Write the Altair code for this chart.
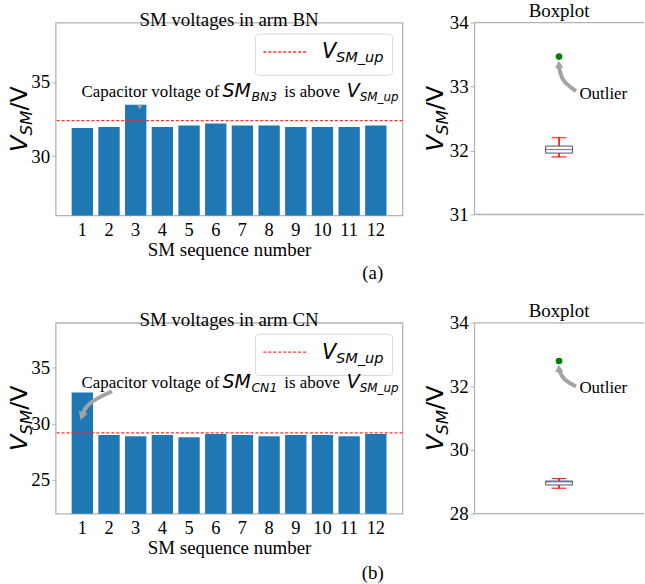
import altair as alt
import pandas as pd

# ---------------- data ----------------
sm_numbers = list(range(1, 13))
bn_voltages = [31.90, 31.96, 33.47, 31.96, 32.07, 32.20, 32.07, 32.07, 31.96, 31.96, 31.96, 32.07]
cn_voltages = [32.80, 29.00, 28.90, 29.00, 28.80, 29.10, 29.00, 28.90, 29.00, 29.00, 28.90, 29.10]
bn_limit = 32.4
cn_limit = 29.2
bn_bar_domain = [26, 39]
cn_bar_domain = [22, 39]
bn_bar_ticks = [30, 35]
cn_bar_ticks = [25, 30, 35]
bn_box_domain = [31, 34]
cn_box_domain = [28, 34]
bn_box_ticks = [31, 32, 33, 34]
cn_box_ticks = [28, 30, 32, 34]

# annotation arrows (data coordinates)
cn_arrow_x = [2.11, 1.55, 1.12, 1.00]
cn_arrow_y = [32.89, 32.29, 31.56, 30.80]
bn_mark_x = [3.15]
bn_mark_y = [33.36]
box_arrow_x = [1.20, 1.05, 1.01, 1.00]
bn_box_arrow_y = [32.93, 33.07, 33.22, 33.33]
cn_box_arrow_y = [32.00, 32.21, 32.46, 32.53]
outlier_text_x = 1.24
bn_outlier_text_y = 32.80
cn_outlier_text_y = 31.79

SERIF = "Liberation Serif"
SANS = "DejaVu Sans"
GREY = "#b3b3b3"
ARROW = "#a3a3a3"
one = pd.DataFrame({"k": [0]})

BAR_W = 349
BOX_W = 171


def label(text, x, y, font=SERIF, size=17, italic=False, angle=None, dx=0, dy=0,
          align="left", baseline="alphabetic"):
    kw = dict(text=text, font=font, fontSize=size, align=align, baseline=baseline, color="black")
    if italic:
        kw["fontStyle"] = "italic"
    if angle is not None:
        kw["angle"] = angle
    if dx:
        kw["dx"] = dx
    if dy:
        kw["dy"] = dy
    return alt.Chart(one).mark_text(**kw).encode(x=alt.value(x), y=alt.value(y))


def y_title(x, ybottom):
    return [
        label("V", x, ybottom, SANS, 24, True, angle=270),
        label("SM", x, ybottom, SANS, 16.8, True, angle=270, dx=16.4, dy=5),
        label("/V", x, ybottom, SANS, 24, False, angle=270, dx=41.6),
    ]


def bar_panel(values, limit, domain, ticks, title, sub, ann_y, height, tag,
              arrow_x=None, arrow_y=None, head_angle=180, mark_x=None, mark_y=None):
    df = pd.DataFrame({"sm": sm_numbers, "v": values})
    df["lo"] = df["sm"] - 0.4
    df["hi"] = df["sm"] + 0.4
    xs = alt.Scale(domain=[0, 13], nice=False, zero=False)
    ys = alt.Scale(domain=domain, nice=False, zero=False)
    bars = alt.Chart(df).mark_bar(color="#1f77b4").encode(
        x=alt.X("lo:Q", scale=xs, axis=alt.Axis(values=sm_numbers, labels=False, ticks=False,
                                                title="SM sequence number", titlePadding=25)),
        x2="hi:Q",
        y=alt.Y("v:Q", scale=ys, axis=alt.Axis(values=ticks, title=None, tickSize=4,
                                               format="d", labelPadding=2)),
        y2=alt.datum(domain[0]),
    )
    xlabels = alt.Chart(df).mark_text(font=SERIF, fontSize=18.5, baseline="middle", color="black").encode(
        x=alt.X("sm:Q", scale=xs), y=alt.value(height + 14.5), text=alt.Text("sm:Q", format="d"))
    rule = alt.Chart(pd.DataFrame({"v": [limit]})).mark_rule(
        color="#ff2b2b", strokeDash=[3, 2], strokeWidth=1.3
    ).encode(y=alt.Y("v:Q", scale=ys))
    layers = [bars, xlabels, rule]
    # legend box
    layers.append(alt.Chart(one).mark_rect(fill="white", stroke="#d9d9d9", strokeWidth=1,
                                           cornerRadius=4).encode(
        x=alt.value(201), x2=alt.value(339), y=alt.value(11.5), y2=alt.value(53)))
    layers.append(alt.Chart(one).mark_rule(color="#ff2b2b", strokeDash=[3, 2], strokeWidth=1.3).encode(
        x=alt.value(209), x2=alt.value(252), y=alt.value(29.5)))
    layers.append(label("V", 268, 36, SANS, 21, True))
    layers.append(label("SM_up", 282, 40, SANS, 14.7, True))
    # annotation sentence
    layers.append(label("Capacitor voltage of", 26, ann_y, SERIF, 17))
    layers.append(label("SM", 168, ann_y, SANS, 19, True))
    layers.append(label(sub, 197, ann_y + 4, SANS, 12.5, True))
    layers.append(label("is above", 230, ann_y, SERIF, 17))
    layers.append(label("V", 293, ann_y, SANS, 19, True))
    layers.append(label("SM_up", 306, ann_y + 4, SANS, 12, True))
    # arrows
    if arrow_x is not None:
        adf = pd.DataFrame({"v": arrow_y, "lo": arrow_x, "o": list(range(len(arrow_x)))})
        layers.append(alt.Chart(adf).mark_line(interpolate="basis", color=ARROW, strokeWidth=4).encode(
            x=alt.X("lo:Q", scale=xs), y=alt.Y("v:Q", scale=ys), order="o:Q"))
        hdf = pd.DataFrame({"lo": arrow_x[-1:], "v": arrow_y[-1:]})
        layers.append(alt.Chart(hdf).mark_point(shape="triangle", filled=True, color=ARROW, opacity=1,
                                                size=90, angle=head_angle).encode(
            x=alt.X("lo:Q", scale=xs), y=alt.Y("v:Q", scale=ys)))
    if mark_x is not None:
        mdf = pd.DataFrame({"lo": mark_x, "v": mark_y})
        layers.append(alt.Chart(mdf).mark_point(shape="triangle", filled=True, color=ARROW, opacity=1,
                                                size=30, angle=180).encode(
            x=alt.X("lo:Q", scale=xs), y=alt.Y("v:Q", scale=ys)))
    layers += y_title(-29, height / 2 + 33)
    layers.append(label(tag, 319, 252, SERIF, 19, align="center", baseline="middle"))
    return alt.layer(*layers).properties(width=BAR_W, height=height, title=title)


def box_panel(values, domain, ticks, arrow_y, text_y, height):
    df = pd.DataFrame({"v": values})
    ys = alt.Scale(domain=domain, nice=False, zero=False)
    xs = alt.Scale(domain=[0, 2], nice=False, zero=False)
    box = alt.Chart(df).mark_boxplot(
        extent=1.5, size=27,
        box={"fill": "white", "stroke": "#555555", "strokeWidth": 1},
        median={"color": "#2233aa", "strokeDash": [7, 2, 2, 2], "strokeWidth": 1.6},
        rule={"color": "red", "strokeWidth": 1.6},
        ticks={"color": "red", "size": 15, "strokeWidth": 2},
        outliers={"color": "green", "filled": True, "size": 45, "opacity": 1},
    ).encode(
        y=alt.Y("v:Q", scale=ys, axis=alt.Axis(values=ticks, title=None, tickSize=4, labelPadding=2,
                                               format="d", domain=True, domainColor=GREY,
                                               domainWidth=1.3))
    )
    adf = pd.DataFrame({"ax": box_arrow_x, "v": arrow_y, "o": list(range(len(arrow_y)))})
    line = alt.Chart(adf).mark_line(interpolate="basis", color=ARROW, strokeWidth=4).encode(
        x=alt.X("ax:Q", scale=xs, axis=None), y=alt.Y("v:Q", scale=ys), order="o:Q")
    hdf = pd.DataFrame({"ax": box_arrow_x[-1:], "v": arrow_y[-1:]})
    head = alt.Chart(hdf).mark_point(shape="triangle", filled=True, color=ARROW, opacity=1,
                                     size=70, angle=355).encode(
        x=alt.X("ax:Q", scale=xs, axis=None), y=alt.Y("v:Q", scale=ys))
    tdf = pd.DataFrame({"ax": [outlier_text_x], "v": [text_y], "t": ["Outlier"]})
    txt = alt.Chart(tdf).mark_text(font=SERIF, fontSize=17, align="left", baseline="alphabetic",
                                   color="black").encode(
        x=alt.X("ax:Q", scale=xs, axis=None), y=alt.Y("v:Q", scale=ys), text="t:N")
    top = alt.Chart(one).mark_rule(color=GREY, strokeWidth=1.3).encode(
        x=alt.value(0), x2=alt.value(BOX_W), y=alt.value(0))
    bottom = alt.Chart(one).mark_rule(color=GREY, strokeWidth=1.3).encode(
        x=alt.value(0), x2=alt.value(BOX_W), y=alt.value(height))
    layers = [box, line, head, txt, top, bottom] + y_title(-31, height / 2 + 33)
    return alt.layer(*layers).properties(width=BOX_W, height=height, title="Boxplot",
                                         view={"stroke": None})


bar_a = bar_panel(bn_voltages, bn_limit, bn_bar_domain, bn_bar_ticks, "SM voltages in arm BN", "BN3",
                  75, 194, "(a)", mark_x=bn_mark_x, mark_y=bn_mark_y)
box_a = box_panel(bn_voltages, bn_box_domain, bn_box_ticks, bn_box_arrow_y, bn_outlier_text_y, 193)
bar_b = bar_panel(cn_voltages, cn_limit, cn_bar_domain, cn_bar_ticks, "SM voltages in arm CN", "CN1",
                  66, 192, "(b)", arrow_x=cn_arrow_x, arrow_y=cn_arrow_y, head_angle=198)
box_b = box_panel(cn_voltages, cn_box_domain, cn_box_ticks, cn_box_arrow_y, cn_outlier_text_y, 192)

row_a = alt.hconcat(bar_a, box_a, spacing=20)
row_b = alt.hconcat(bar_b, box_b, spacing=20)

chart = alt.vconcat(row_a, row_b, spacing=18).properties(
    padding={"left": 7, "top": 0, "right": 0, "bottom": 0},
    background="white",
).configure_view(
    stroke=GREY, strokeWidth=1.3
).configure_axis(
    domain=False, grid=False, labelFont=SERIF, labelFontSize=19, labelColor="black",
    tickColor=GREY, titleFont=SERIF, titleFontSize=19, titleFontWeight="normal", titleColor="black"
).configure_title(
    font=SERIF, fontSize=19, fontWeight="normal", color="black", offset=-7, frame="group"
)

chart.save("out.html", embed_options={"renderer": "svg", "actions": False})
